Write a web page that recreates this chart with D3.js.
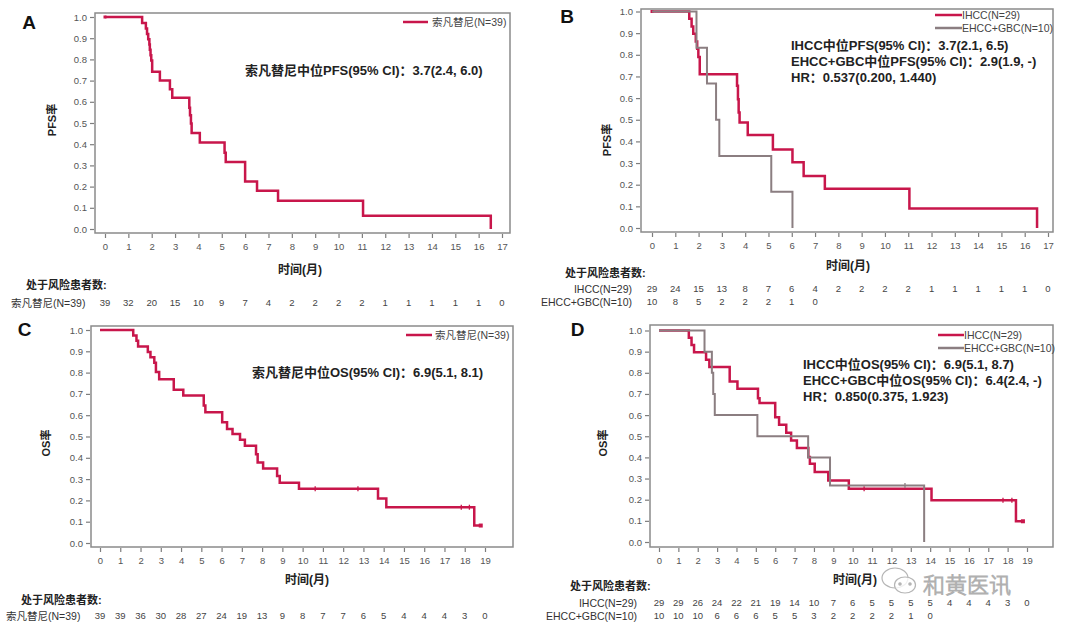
<!DOCTYPE html>
<html><head><meta charset="utf-8">
<script src="https://cdn.jsdelivr.net/npm/d3@7"></script>
<style>
body{margin:0;background:#fff}
svg{display:block}
text{font-family:"Liberation Sans",Arial,"Noto Sans CJK SC",sans-serif}
</style>
</head><body>
<svg id="chart" width="1080" height="624"></svg>
<script>
// ---------------- DATA ----------------
const yTicks = [0,0.1,0.2,0.3,0.4,0.5,0.6,0.7,0.8,0.9,1.0];
const xTicksPFS = d3.range(0,18);   // 0..17 months
const xTicksOS  = d3.range(0,20);   // 0..19 months

// Panel A: PFS, all patients
const pfsA_time = [0,1.59,1.75,1.80,1.85,1.90,1.92,1.95,1.98,2.02,2.35,2.78,2.88,3.61,3.64,3.68,3.71,4.06,5.12,5.17,6.00,6.51,7.41,11.05,16.52];
const pfsA_surv = [1,0.972,0.946,0.920,0.895,0.870,0.845,0.820,0.795,0.742,0.700,0.659,0.619,0.572,0.537,0.498,0.453,0.408,0.360,0.316,0.224,0.180,0.133,0.063,0];
const riskA = [39,32,20,15,10,9,7,4,2,2,2,2,1,1,1,1,1,0];

// Panel B: PFS by subgroup
const pfsB_ihcc_time = [0,1.60,1.70,1.77,1.88,1.94,1.99,2.05,3.65,3.69,3.72,3.76,4.11,5.19,6.03,6.51,7.42,11.05,16.53];
const pfsB_ihcc_surv = [1,0.966,0.931,0.897,0.862,0.828,0.790,0.710,0.657,0.595,0.533,0.487,0.430,0.363,0.304,0.240,0.181,0.090,0];
const pfsB_ehcc_time = [0,1.91,2.36,2.75,2.89,5.12,6.03];
const pfsB_ehcc_surv = [1,0.833,0.667,0.500,0.333,0.167,0];
const riskB_ihcc = [29,24,15,13,8,7,6,4,2,2,2,2,1,1,1,1,1,0];
const riskB_ehcc = [10,8,5,2,2,2,1,0];

// Panel C: OS, all patients
const osC_time = [0,1.64,1.80,1.88,2.36,2.49,2.68,2.76,2.92,3.64,4.11,5.12,5.20,6.03,6.27,6.54,6.91,7.15,7.70,7.78,8.05,8.74,8.87,9.82,13.72,14.13,18.47,18.79];
const osC_surv = [1,0.974,0.949,0.923,0.897,0.872,0.846,0.803,0.769,0.720,0.693,0.646,0.614,0.567,0.535,0.512,0.485,0.457,0.417,0.378,0.350,0.315,0.283,0.255,0.209,0.168,0.082,0.082];
const osC_censor = [10.62,12.73,17.83,18.23];
const riskC = [39,39,36,30,28,27,24,19,13,9,8,7,7,6,5,4,4,4,3,0];

// Panel D: OS by subgroup
const osD_ihcc_time = [0,1.54,1.68,1.81,2.43,2.60,3.65,4.05,5.11,5.19,6.00,6.20,6.57,6.82,7.12,7.71,7.79,8.04,8.74,9.80,14.07,18.43,18.79];
const osD_ihcc_surv = [1,0.966,0.931,0.897,0.862,0.828,0.759,0.724,0.680,0.657,0.590,0.554,0.517,0.480,0.444,0.402,0.370,0.331,0.291,0.252,0.197,0.098,0.098];
const osD_ihcc_censor = [10.59,17.76,18.22];
const osD_ehcc_time = [0,2.35,2.73,2.80,2.88,5.08,7.70,8.83,13.69];
const osD_ehcc_surv = [1,0.900,0.800,0.700,0.600,0.500,0.400,0.267,0];
const osD_ehcc_censor = [12.70];
const riskD_ihcc = [29,29,26,24,22,21,19,14,10,7,6,5,5,5,5,4,4,4,3,0];
const riskD_ehcc = [10,10,10,6,6,6,5,5,3,2,2,2,2,1,0];

// ---------------- DRAW ----------------
const RED = "#c8164b", GRAY = "#8b7e81";
const svg = d3.select("#chart");

function stepVal(t, ts, ss){
  let v = ss[0];
  for (let i=0;i<ts.length;i++) if (ts[i] <= t) v = ss[i];
  return v;
}

function panel(cfg){
  const g = svg.append("g");
  const x = d3.scaleLinear().domain([0,cfg.xmax]).range(cfg.xr);
  const y = d3.scaleLinear().domain([0,1]).range(cfg.yr);
  const [fl,ft,fr,fb] = cfg.frame;

  const ya = g.append("g").attr("transform",`translate(${fl-1},0)`)
    .call(d3.axisLeft(y).tickValues(yTicks).tickFormat(d3.format(".1f")).tickSize(4).tickPadding(3));
  const xa = g.append("g").attr("transform",`translate(0,${fb+1})`)
    .call(d3.axisBottom(x).tickValues(cfg.xticks).tickFormat(d3.format("d")).tickSize(4).tickPadding(5));
  [ya,xa].forEach(a=>{
    a.select(".domain").remove();
    a.selectAll(".tick line").attr("stroke","#7d7d7d").attr("stroke-width",1.2);
    a.selectAll(".tick text").attr("fill","#555").style("font-size","9.5px")
      .style("font-family",'"Liberation Sans",Arial,sans-serif');
  });

  g.append("rect").attr("x",fl).attr("y",ft).attr("width",fr-fl).attr("height",fb-ft)
    .attr("fill","none").attr("stroke","#8a8a8a").attr("stroke-width",1.5);

  const line = d3.line().x(d=>x(d[0])).y(d=>y(d[1])).curve(d3.curveStepAfter);
  cfg.series.forEach(s=>{
    const pts = s.t.map((t,i)=>[t,s.s[i]]);
    g.append("path").datum(pts).attr("d",line).attr("fill","none")
      .attr("stroke",s.color).attr("stroke-width",s.w).attr("stroke-linejoin","miter");
    (s.censor||[]).forEach(c=>{
      const cy = y(stepVal(c,s.t,s.s));
      g.append("line").attr("x1",x(c)).attr("x2",x(c)).attr("y1",cy-2.5).attr("y2",cy+2.5)
        .attr("stroke",s.color).attr("stroke-width",1.3);
    });
    if (s.startDot) g.append("rect").attr("x",x(0)-1.5).attr("y",y(1)-1.5).attr("width",3).attr("height",3).attr("fill",s.color);
    if (s.endDot){
      const n = s.t.length-1;
      g.append("rect").attr("x",x(s.t[n])-2).attr("y",y(s.s[n])-2).attr("width",4).attr("height",4).attr("fill",s.color);
    }
  });

  cfg.legend.forEach(l=>{
    g.append("line").attr("x1",l.x1).attr("x2",l.x2).attr("y1",l.y).attr("y2",l.y)
      .attr("stroke",l.color).attr("stroke-width",2.5);
    g.append("text").attr("x",l.tx).attr("y",l.y).attr("dy","0.35em")
      .attr("fill","#444").style("font-size","10.5px").text(l.label);
  });

  cfg.notes.forEach(n=>{
    g.append("text").attr("x",n.x).attr("y",n.y).attr("dy","0.35em")
      .attr("fill","#222").style("font-size","13px").style("font-weight","bold").text(n.text);
  });

  g.append("text").attr("x",cfg.letter[0]).attr("y",cfg.letter[1]).attr("dy","0.35em")
    .attr("text-anchor","middle").style("font-size","19px").style("font-weight","bold")
    .attr("fill","#111").text(cfg.letter[2]);

  g.append("text").attr("transform",`translate(${cfg.ytitle[0]},${cfg.ytitle[1]}) rotate(-90)`)
    .attr("text-anchor","middle").attr("dy","0.35em").style("font-size","11px").style("font-weight","bold")
    .attr("fill","#222").text(cfg.ytitle[2]);

  g.append("text").attr("x",cfg.xtitle[0]).attr("y",cfg.xtitle[1]).attr("dy","0.35em")
    .attr("text-anchor","middle").style("font-size","12px").style("font-weight","bold")
    .attr("fill","#222").text("时间(月)");

  g.append("text").attr("x",cfg.riskHead[0]).attr("y",cfg.riskHead[1]).attr("dy","0.35em")
    .style("font-size","11px").style("font-weight","bold").attr("fill","#222").text("处于风险患者数:");

  cfg.risk.forEach(r=>{
    g.append("text").attr("x",r.lx).attr("y",r.y).attr("dy","0.35em")
      .attr("text-anchor",r.anchor).style("font-size","10.5px").attr("fill","#333").text(r.label);
    r.vals.forEach((v,i)=>{
      g.append("text").attr("x",x(i)).attr("y",r.y).attr("dy","0.35em")
        .attr("text-anchor","middle").style("font-size","9.5px").attr("fill","#444").text(v);
    });
  });
}

panel({
  frame:[95,13,510,233], xmax:17, xr:[105,502], yr:[229,17], xticks:xTicksPFS,
  series:[{t:pfsA_time,s:pfsA_surv,color:RED,w:2.5,startDot:true}],
  legend:[{x1:403,x2:428,y:22,tx:432,color:RED,label:"索凡替尼(N=39)"}],
  notes:[{x:245,y:70,text:"索凡替尼中位PFS(95% CI)：3.7(2.4, 6.0)"}],
  letter:[29,22,"A"], ytitle:[52,120,"PFS率"], xtitle:[300,270],
  riskHead:[26,285],
  risk:[{label:"索凡替尼(N=39)",lx:11,anchor:"start",y:303,vals:riskA}]
});

panel({
  frame:[641,9,1053,232], xmax:17, xr:[652,1048], yr:[228,11.5], xticks:xTicksPFS,
  series:[
    {t:pfsB_ihcc_time,s:pfsB_ihcc_surv,color:RED,w:2.5,startDot:true},
    {t:pfsB_ehcc_time,s:pfsB_ehcc_surv,color:GRAY,w:2}
  ],
  legend:[
    {x1:935,x2:962,y:15,tx:962,color:RED,label:"IHCC(N=29)"},
    {x1:935,x2:962,y:28,tx:962,color:GRAY,label:"EHCC+GBC(N=10)"}
  ],
  notes:[
    {x:791,y:45,text:"IHCC中位PFS(95% CI)：3.7(2.1, 6.5)"},
    {x:791,y:61.5,text:"EHCC+GBC中位PFS(95% CI)：2.9(1.9, -)"},
    {x:791,y:77.5,text:"HR：0.537(0.200, 1.440)"}
  ],
  letter:[567,16.5,"B"], ytitle:[607,140,"PFS率"], xtitle:[848,266],
  riskHead:[565,273],
  risk:[
    {label:"IHCC(N=29)",lx:632,anchor:"end",y:289,vals:riskB_ihcc},
    {label:"EHCC+GBC(N=10)",lx:632,anchor:"end",y:302,vals:riskB_ehcc}
  ]
});

panel({
  frame:[91,326,513,547], xmax:19, xr:[100,485], yr:[543,330], xticks:xTicksOS,
  series:[{t:osC_time,s:osC_surv,color:RED,w:2.5,censor:osC_censor,endDot:true}],
  legend:[{x1:406,x2:432,y:335,tx:435,color:RED,label:"索凡替尼(N=39)"}],
  notes:[{x:252,y:372,text:"索凡替尼中位OS(95% CI)：6.9(5.1, 8.1)"}],
  letter:[24.5,329,"C"], ytitle:[46,443,"OS率"], xtitle:[307,580],
  riskHead:[21,600],
  risk:[{label:"索凡替尼(N=39)",lx:6,anchor:"start",y:616,vals:riskC}]
});

panel({
  frame:[650,325,1053,547], xmax:19, xr:[659,1027], yr:[542,330.5], xticks:xTicksOS,
  series:[
    {t:osD_ihcc_time,s:osD_ihcc_surv,color:RED,w:2.5,censor:osD_ihcc_censor,endDot:true},
    {t:osD_ehcc_time,s:osD_ehcc_surv,color:GRAY,w:2,censor:osD_ehcc_censor}
  ],
  legend:[
    {x1:938,x2:964,y:335,tx:964,color:RED,label:"IHCC(N=29)"},
    {x1:938,x2:964,y:348,tx:964,color:GRAY,label:"EHCC+GBC(N=10)"}
  ],
  notes:[
    {x:803,y:364,text:"IHCC中位OS(95% CI)：6.9(5.1, 8.7)"},
    {x:803,y:380,text:"EHCC+GBC中位OS(95% CI)：6.4(2.4, -)"},
    {x:803,y:396,text:"HR：0.850(0.375, 1.923)"}
  ],
  letter:[577.5,329,"D"], ytitle:[603,443,"OS率"], xtitle:[855,580],
  riskHead:[570,586],
  risk:[
    {label:"IHCC(N=29)",lx:637,anchor:"end",y:603,vals:riskD_ihcc},
    {label:"EHCC+GBC(N=10)",lx:637,anchor:"end",y:616,vals:riskD_ehcc}
  ]
});

// watermark
const wm = svg.append("g").attr("fill","none").attr("stroke","#b5b5b5").attr("stroke-width",1.2);
wm.append("ellipse").attr("cx",895).attr("cy",578).attr("rx",13).attr("ry",10).attr("fill","rgba(255,255,255,0.6)");
wm.append("ellipse").attr("cx",905).attr("cy",585).attr("rx",10.5).attr("ry",8).attr("fill","rgba(255,255,255,0.8)");
[[900,584],[910,584]].forEach(p=>wm.append("circle").attr("cx",p[0]).attr("cy",p[1]).attr("r",1.2).attr("fill","#b5b5b5"));
svg.append("text").attr("x",923).attr("y",585).attr("dy","0.35em")
  .style("font-family",'"Noto Sans CJK SC",sans-serif').style("font-size","22px").style("font-weight","300")
  .attr("fill","rgba(255,255,255,0.7)").attr("stroke","#b0b0b0").attr("stroke-width",1)
  .text("和黄医讯");
</script>
</body></html>
